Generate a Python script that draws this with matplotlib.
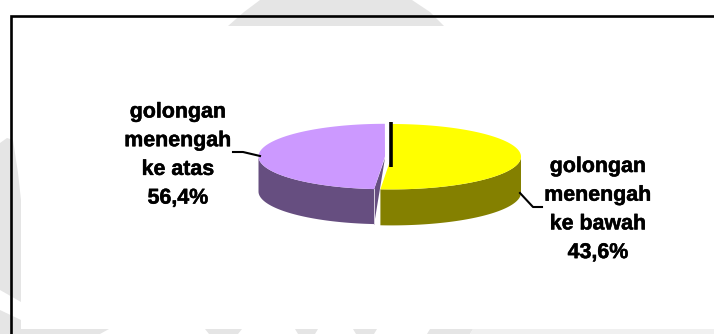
import numpy as np
import matplotlib
matplotlib.use("Agg")
import matplotlib.pyplot as plt
import matplotlib.patheffects as pe

# Chart data
categories = ["golongan\nmenengah\nke bawah", "golongan\nmenengah\nke atas"]
values = [43.6, 56.4]

# Styling of each slice: top colour, side colour, centre, label centre, leader path
top_colors = ["#FFFF00", "#CC99FF"]
side_colors = ["#848000", "#664E80"]
centers = [(391.5, 156.7), (385.0, 156.5)]
radii = [(129.5, 32.7), (126.5, 32.7)]
depths = [36, 35]
label_pos = [(598, 164.5), (178, 110)]
leaders = [[(520, 193), (533, 207), (542, 207)], [(233, 152), (243, 152), (260, 156)]]

FIRST_SLICE_ANGLE = 76.1   # degrees, true angle on the pie disc
PERSPECTIVE = 1.279        # strength of the perspective warp on the disc
LINE_STEP = 28.7

# Faint backdrop shapes around the white plot panel
backdrop = [
    [(228, 26), (244, 12), (260, 0), (412, 0), (430, 12), (444, 26)],
    [(0, 143), (7, 138), (13, 140), (18, 173), (21, 200), (21, 302), (0, 290)],
    [(0, 310), (21, 320), (21, 334), (0, 334)],
    [(21, 329), (109, 329), (100, 334), (21, 334)],
    [(205, 329), (242, 329), (238, 334), (209, 334)],
    [(295, 329), (318, 329), (315, 334), (298, 334)],
    [(353, 329), (377, 329), (374, 334), (356, 334)],
    [(430, 329), (473, 329), (470, 334), (427, 334)],
]
backdrop_light = [[(473, 329), (714, 329), (714, 334), (470, 334)]]


def warp(theta_deg):
    """Project a true disc angle to its ellipse parameter under perspective."""
    half = np.radians(theta_deg) / 2
    return 2 * np.arctan2(PERSPECTIVE * np.sin(half), np.cos(half))


fig = plt.figure(figsize=(7.14, 3.34), dpi=100, facecolor="white")
ax = fig.add_axes([0, 0, 1, 1])
ax.set_xlim(0, 714)
ax.set_ylim(334, 0)
ax.axis("off")

for poly in backdrop:
    ax.fill(*zip(*poly), color="#E5E5E5", lw=0, zorder=1)
for poly in backdrop_light:
    ax.fill(*zip(*poly), color="#F0F0F0", lw=0, zorder=1)

# Panel border: top and left edges only
ax.plot([10.5, 10.5, 714], [334, 16, 16], color="black", lw=1.9,
        solid_joinstyle="miter", zorder=2)

# Slices run clockwise from the first slice angle
total = sum(values)
start = FIRST_SLICE_ANGLE
for i, value in enumerate(values):
    sweep = 360 * value / total
    true_angles = np.linspace(start, start - sweep, 400)
    params = warp(true_angles)
    cx, cy = centers[i]
    a, b = radii[i]
    xs = cx + a * np.cos(params)
    ys = cy - b * np.sin(params)

    # Outer wall: only the part of the rim that faces the viewer
    front = np.sin(params) <= 0
    wall_x = np.r_[xs[front], xs[front][::-1]]
    wall_y = np.r_[ys[front], ys[front][::-1] + depths[i]]
    ax.fill(wall_x, wall_y, color=side_colors[i], lw=0, zorder=3)

    # Cut face of the larger slice, with its pale front edge
    if i == 1:
        ax.fill([cx, xs[0], xs[0]], [cy + 1.5, ys[0], ys[0] + depths[i]],
                color=side_colors[i], lw=0, zorder=3)
        ax.plot([xs[0], xs[0]], [ys[0], ys[0] + depths[i]], color="#D9D2E0",
                lw=0.7, zorder=4)

    # Top surface
    ax.fill(np.r_[cx, xs], np.r_[cy, ys], color=top_colors[i], lw=0, zorder=5)
    start -= sweep

# Leader lines
for path in leaders:
    ax.plot(*zip(*path), color="black", lw=1.5, zorder=6)
ax.plot([390.5, 390.5], [122, 167], color="black", lw=2.6, zorder=6,
        solid_capstyle="butt")

# Category labels with their percentages
for name, value, (lx, ly) in zip(categories, values, label_pos):
    lines = name.split("\n") + [f"{value:.1f}%".replace(".", ",")]
    for j, line in enumerate(lines):
        ax.text(lx, ly + j * LINE_STEP, line, ha="center", va="center_baseline",
                family="Liberation Sans", fontweight="bold", fontsize=15.4,
                color="black", zorder=7,
                path_effects=[pe.withStroke(linewidth=0.35, foreground="black")])

fig.savefig("out.png", dpi=100, facecolor="white")
